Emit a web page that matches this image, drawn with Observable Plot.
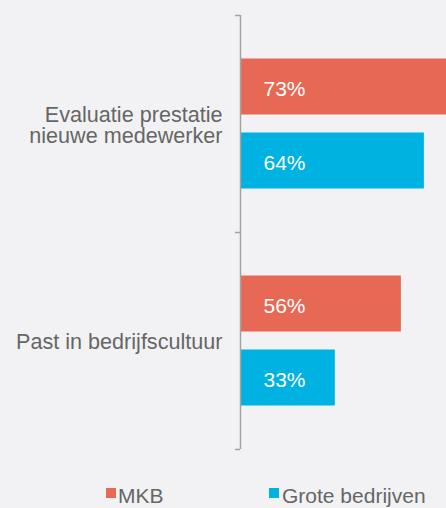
<!DOCTYPE html>
<html><head><meta charset="utf-8">
<script src="https://cdn.jsdelivr.net/npm/d3@7"></script>
<script src="https://cdn.jsdelivr.net/npm/@observablehq/plot@0.6"></script>
<style>
html,body{margin:0;padding:0;background:#f2f2f4;overflow:hidden;}
#wrap{position:relative;width:446px;height:508px;font-family:"Liberation Sans",Arial,sans-serif;}
.leg{position:absolute;font-size:21px;color:#666;line-height:24px;white-space:nowrap;}
.sw{position:absolute;width:10px;height:10px;}
</style></head><body><div id="wrap"></div>
<script>
const categories = ["Evaluatie prestatie nieuwe medewerker", "Past in bedrijfscultuur"];
const tickLabels = ["Evaluatie prestatie\nnieuwe medewerker", "Past in bedrijfscultuur"];
const seriesNames = ["MKB", "Grote bedrijven"];
const mkbValues = [73, 56];
const groteValues = [64, 33];
const colors = ["#e76955", "#00b2e2"];

const data = [];
categories.forEach((c, i) => {
  data.push({category: c, series: seriesNames[0], value: mkbValues[i]});
  data.push({category: c, series: seriesNames[1], value: groteValues[i]});
});

const W = 446, H = 484, mt = 15, mb = 35, ml = 240, mr = 0;
const facetH = (H - mt - mb) / categories.length;
const axisColor = "#a3a3a3";

const chart = Plot.plot({
  width: W, height: H,
  marginTop: mt, marginBottom: mb, marginLeft: ml, marginRight: mr,
  style: {background: "transparent", fontFamily: "Liberation Sans, Arial, sans-serif"},
  x: {domain: [0, 71.7], axis: null},
  y: {domain: seriesNames, paddingInner: 0.243, paddingOuter: 0.588, round: false, axis: null},
  fy: {domain: categories, padding: 0, round: false, label: null},
  color: {domain: seriesNames, range: colors},
  marks: [
    Plot.barX(data, {x: "value", y: "series", fy: "category", fill: "series", clip: true}),
    Plot.text(data, {x: 0, y: "series", fy: "category", text: d => d.value + "%",
      textAnchor: "start", dx: 23, dy: 2, fill: "white", fontSize: 21}),
    Plot.ruleX([0], {stroke: axisColor, strokeWidth: 1.5}),
    Plot.axisFy({anchor: "left", tickSize: 0, tickPadding: 18, label: null,
      tickFormat: d => tickLabels[categories.indexOf(d)], fontSize: 21.6, fill: "#666", dy: 1.5}),
    Plot.axisFy({anchor: "left", tickSize: 5, fill: "none", label: null,
      stroke: axisColor, strokeWidth: 1.5, dy: -facetH / 2}),
    Plot.axisFy({anchor: "left", ticks: [categories[categories.length - 1]], tickSize: 5, fill: "none", label: null,
      stroke: axisColor, strokeWidth: 1.5, dy: facetH / 2})
  ]
});
const wrap = document.getElementById("wrap");
wrap.appendChild(chart);

// legend below the chart
const legendPos = [{sw: 105.5, tx: 118}, {sw: 269, tx: 282}];
seriesNames.forEach((name, i) => {
  const sw = document.createElement("div");
  sw.className = "sw";
  sw.style.left = legendPos[i].sw + "px";
  sw.style.top = "487.5px";
  sw.style.background = colors[i];
  wrap.appendChild(sw);
  const t = document.createElement("div");
  t.className = "leg";
  t.style.left = legendPos[i].tx + "px";
  t.style.top = "484px";
  t.textContent = name;
  wrap.appendChild(t);
});
</script></body></html>
